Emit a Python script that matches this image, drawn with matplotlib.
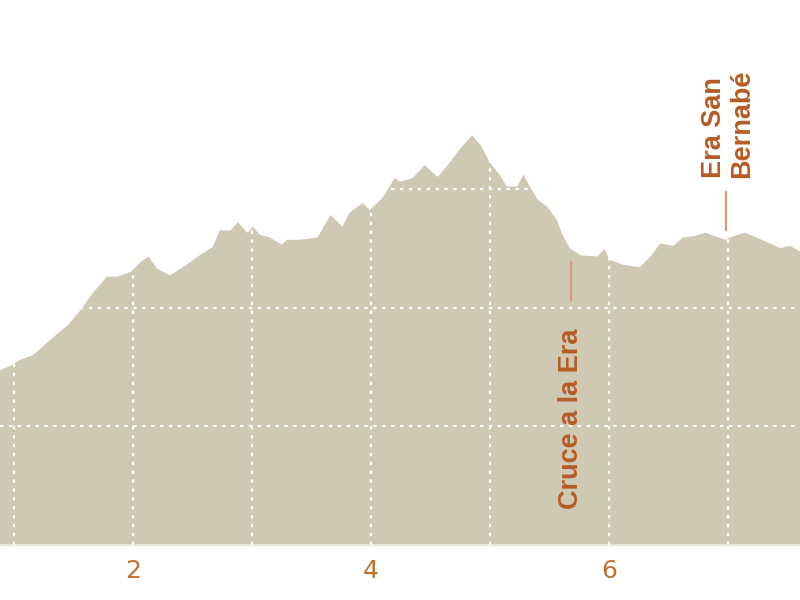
import numpy as np
import matplotlib.pyplot as plt
from matplotlib.ticker import MultipleLocator

# perfil de la ruta: distancia (km) y altitud (m)
km = [0.88, 0.99, 1.05, 1.16, 1.24, 1.33, 1.45, 1.56, 1.66, 1.78, 1.87, 1.98,
      2.06, 2.13, 2.20, 2.31, 2.42, 2.56, 2.67, 2.73, 2.82, 2.88, 2.96, 3.01,
      3.07, 3.15, 3.25, 3.29, 3.40, 3.55, 3.66, 3.76, 3.82, 3.93, 3.99, 4.10,
      4.20, 4.24, 4.35, 4.45, 4.56, 4.66, 4.75, 4.85, 4.92, 5.00, 5.08, 5.14,
      5.23, 5.28, 5.34, 5.40, 5.48, 5.56, 5.61, 5.67, 5.76, 5.90, 5.96, 6.01,
      6.12, 6.26, 6.35, 6.43, 6.54, 6.62, 6.71, 6.81, 6.89, 6.98, 7.04, 7.14,
      7.24, 7.35, 7.44, 7.52, 7.61]
alt = [647, 652, 656, 660, 667, 675, 685, 698, 712, 726, 726, 730,
       738, 743, 733, 727, 734, 744, 751, 765, 765, 772, 763, 768,
       761, 759, 753, 757, 757, 759, 778, 768, 780, 788, 782, 793,
       809, 806, 809, 820, 810, 822, 834, 845, 837, 822, 812, 802,
       802, 812, 801, 791, 785, 774, 761, 750, 744, 743, 749, 740,
       736, 734, 743, 754, 752, 759, 760, 763, 760, 757, 760, 763,
       759, 754, 750, 752, 747]

xticks = [2, 4, 6]

# puntos señalados
hitos = ["Cruce a la Era", "Era San\nBernabé"]
hitos_km = [5.68, 7.0]
hitos_txt_alt = [530, 809]
hitos_linea = [(706, 738), (765, 797)]

fondo = '#cfc9b4'
naranja = '#b65c25'

fig = plt.figure(figsize=(8, 6), dpi=100)
ax = fig.add_axes([0, 0.0917, 1, 0.9083])

ax.fill_between(km, alt, 0, color=fondo, lw=0, zorder=1)

ax.set_xlim(0.882, 7.605)
ax.set_ylim(500, 959)

ax.set_xticks(xticks)
ax.xaxis.set_minor_locator(MultipleLocator(1))
ax.set_yticks([600, 700, 800])
ax.set_yticklabels([])
ax.grid(which='both', color='white', ls=(0, (1.5, 2.5)), lw=1.6, zorder=2)
ax.set_axisbelow(False)
ax.tick_params(axis='both', which='both', length=0)
ax.tick_params(axis='x', labelsize=18, labelcolor='#c0702e', pad=10)

for s in ['top', 'left', 'right']:
    ax.spines[s].set_visible(False)
ax.spines['bottom'].set_color('#e9e5da')
ax.spines['bottom'].set_linewidth(1.5)

for i, (nombre, x, ya) in enumerate(zip(hitos, hitos_km, hitos_txt_alt)):
    y0, y1 = hitos_linea[i]
    ax.plot([hitos_km[i] - (0.02 if i else 0)] * 2, [y0, y1],
            color='#d99c7a', lw=1.6, zorder=3)
    ax.text(x, ya, nombre, rotation=90, ha='center', va='bottom',
            multialignment='left', color=naranja, fontsize=19.5,
            fontweight='bold', family='Liberation Sans', linespacing=1.15,
            zorder=4)

fig.savefig('out.png', dpi=100)
